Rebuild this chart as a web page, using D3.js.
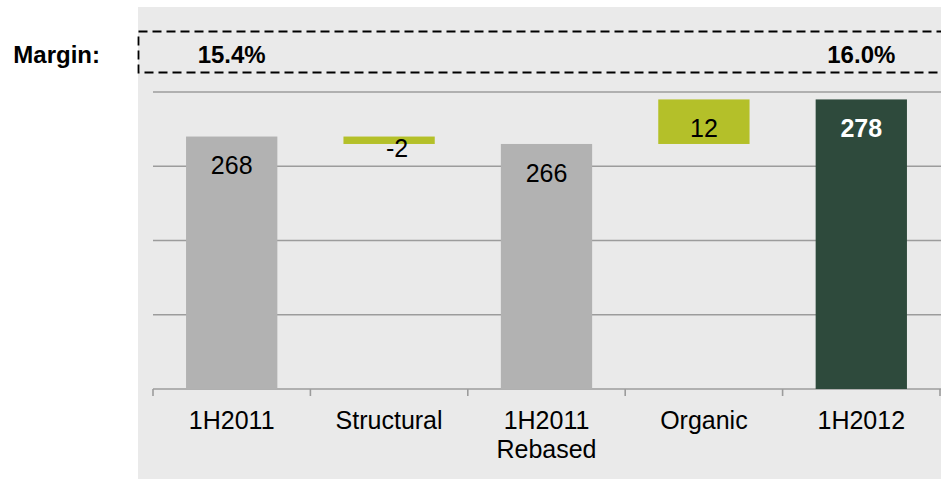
<!DOCTYPE html>
<html>
<head>
<meta charset="utf-8">
<script src="https://cdn.jsdelivr.net/npm/d3@7"></script>
<style>
  body { margin: 0; background: #fff; }
  text { font-family: Arial, "Liberation Sans", sans-serif; }
</style>
</head>
<body>
<div id="chart"></div>
<script>
const categories = ["1H2011", "Structural", "1H2011\nRebased", "Organic", "1H2012"];
// floating bars: [start, end]
const barStart = [200, 268, 200, 266, 200];
const barEnd = [268, 266, 266, 278, 278];
const barLabels = ["268", "-2", "266", "12", "278"];
const barKinds = ["total", "delta", "total", "delta", "final"];
const marginLabels = ["15.4%", "", "", "", "16.0%"];

const width = 941;
const height = 479;

const colors = { total: "#b2b2b2", delta: "#b4c029", final: "#2e4a3c" };

const svg = d3.select("#chart")
  .append("svg")
  .attr("width", width)
  .attr("height", height);

// panel background
svg.append("rect")
  .attr("x", 138).attr("y", 7)
  .attr("width", width - 138).attr("height", height - 7)
  .attr("fill", "#eaeaea");

const x = d3.scaleBand()
  .domain(categories)
  .range([153, 940])
  .paddingInner(0.42)
  .paddingOuter(0.21);

const y = d3.scaleLinear()
  .domain([200, 280])
  .range([389, 92]);

// gridlines
svg.append("g")
  .selectAll("line")
  .data(y.ticks(4))
  .enter()
  .append("line")
  .attr("x1", 153).attr("x2", 941)
  .attr("y1", d => y(d)).attr("y2", d => y(d))
  .attr("stroke", "#9c9c9c")
  .attr("stroke-width", 1.6);

// bars
const bars = categories.map((c, i) => ({
  cat: c,
  lo: Math.min(barStart[i], barEnd[i]),
  hi: Math.max(barStart[i], barEnd[i]),
  neg: barEnd[i] < barStart[i],
  label: barLabels[i],
  kind: barKinds[i]
}));

svg.append("g")
  .selectAll("rect")
  .data(bars)
  .enter()
  .append("rect")
  .attr("x", d => x(d.cat))
  .attr("width", x.bandwidth())
  .attr("y", d => y(d.hi))
  .attr("height", d => y(d.lo) - y(d.hi))
  .attr("fill", d => colors[d.kind]);

// value labels, near the top of each bar
svg.append("g")
  .selectAll("text")
  .data(bars)
  .enter()
  .append("text")
  .attr("x", d => x(d.cat) + x.bandwidth() / 2)
  .attr("y", d => Math.min(y(d.hi) + 29, y(d.lo) + 4))
  .attr("dx", d => d.neg ? 8 : 0)
  .attr("dy", "0.35em")
  .attr("text-anchor", "middle")
  .attr("font-size", 25)
  .attr("font-weight", d => d.kind === "final" ? "bold" : "normal")
  .attr("fill", d => d.kind === "final" ? "#fff" : "#000")
  .text(d => d.label);

// category boundary ticks
const step = x.step();
const tickXs = categories.map(c => x(c) - x.paddingInner() * step / 2);
tickXs.push(x(categories[categories.length - 1]) + x.bandwidth() + x.paddingInner() * step / 2);

svg.append("g")
  .selectAll("line")
  .data(tickXs)
  .enter()
  .append("line")
  .attr("x1", d => d).attr("x2", d => d)
  .attr("y1", y(200)).attr("y2", y(200) + 7)
  .attr("stroke", "#9c9c9c")
  .attr("stroke-width", 1.6);

// category labels
const catText = svg.append("g")
  .selectAll("text")
  .data(categories)
  .enter()
  .append("text")
  .attr("x", d => x(d) + x.bandwidth() / 2)
  .attr("y", 429)
  .attr("text-anchor", "middle")
  .attr("font-size", 25)
  .attr("fill", "#000");

catText.each(function (d) {
  const t = d3.select(this);
  d.split("\n").forEach((line, i) => {
    t.append("tspan")
      .attr("x", x(d) + x.bandwidth() / 2)
      .attr("dy", i === 0 ? 0 : 29)
      .text(line);
  });
});

// margin row
svg.append("rect")
  .attr("x", 138.5).attr("y", 31.5)
  .attr("width", 820).attr("height", 41)
  .attr("fill", "none")
  .attr("stroke", "#000")
  .attr("stroke-width", 1.8)
  .attr("stroke-dasharray", "9,5");

svg.append("text")
  .attr("x", 100).attr("y", 55)
  .attr("dy", "0.35em")
  .attr("text-anchor", "end")
  .attr("font-size", 24)
  .attr("font-weight", "bold")
  .text("Margin:");

svg.append("g")
  .selectAll("text")
  .data(categories.map((c, i) => ({ cat: c, m: marginLabels[i] })).filter(d => d.m))
  .enter()
  .append("text")
  .attr("x", d => x(d.cat) + x.bandwidth() / 2)
  .attr("y", 55)
  .attr("dy", "0.35em")
  .attr("text-anchor", "middle")
  .attr("font-size", 24)
  .attr("font-weight", "bold")
  .text(d => d.m);
</script>
</body>
</html>
